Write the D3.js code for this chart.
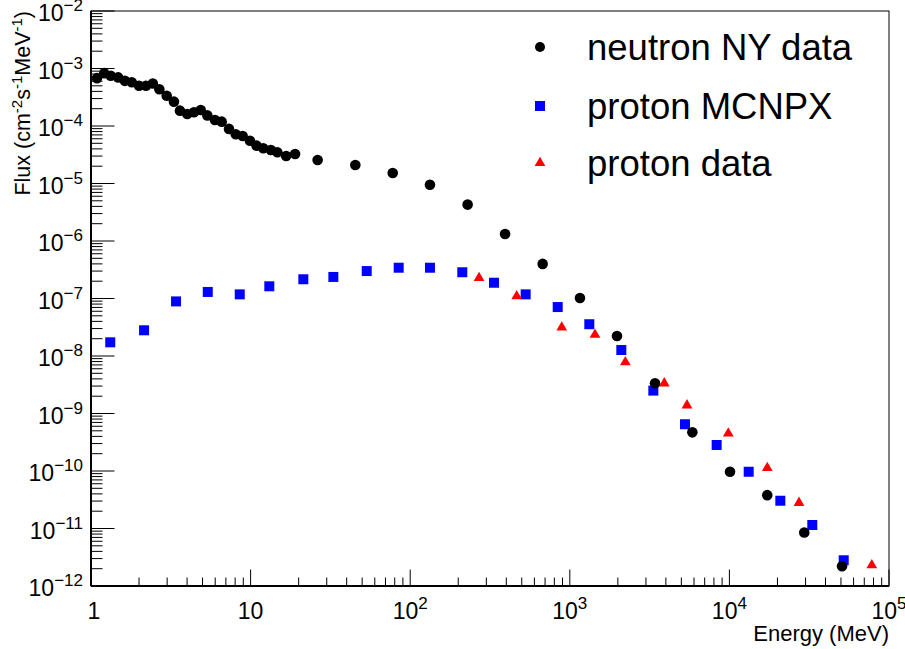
<!DOCTYPE html>
<html>
<head>
<meta charset="utf-8">
<script src="https://cdn.jsdelivr.net/npm/d3@7"></script>
<style>
  body { margin: 0; background: #fff; }
  svg { display: block; }
  text { font-family: "Liberation Sans", Arial, Helvetica, sans-serif; fill: #000; }
</style>
</head>
<body>
<div id="chart"></div>
<script>
// neutron NY data (black circles)
var neutronE = [1.09, 1.21, 1.33, 1.48, 1.63, 1.80, 2.00, 2.21, 2.44, 2.68, 2.98, 3.31, 3.61, 4.01, 4.42, 4.87,
  5.36, 5.98, 6.59, 7.32, 8.07, 8.92, 9.91, 10.9, 12.0, 13.4, 14.7, 16.7, 19.0, 26.3, 45.3, 77.7, 133, 229,
  393, 676, 1158, 1976, 3420, 5860, 10090, 17270, 29450, 50780];
var neutronFlux = [6.8e-4, 8.3e-4, 7.5e-4, 7.0e-4, 6.1e-4, 5.75e-4, 5.0e-4, 5.0e-4, 5.5e-4, 4.35e-4, 3.36e-4, 2.65e-4,
  1.85e-4, 1.62e-4, 1.73e-4, 1.90e-4, 1.53e-4, 1.27e-4, 1.19e-4, 8.9e-5, 7.2e-5, 6.7e-5, 5.55e-5, 4.55e-5, 4.1e-5,
  3.83e-5, 3.5e-5, 3.0e-5, 3.26e-5, 2.56e-5, 2.10e-5, 1.52e-5, 9.5e-6, 4.3e-6, 1.32e-6, 4.0e-7, 1.02e-7, 2.23e-8,
  3.35e-9, 4.7e-10, 9.7e-11, 3.8e-11, 8.5e-12, 2.2e-12];

// proton MCNPX (blue squares)
var mcnpxE = [1.32, 2.15, 3.41, 5.39, 8.55, 13.1, 21.4, 33.0, 53.4, 84.7, 133, 212, 335, 529, 840, 1325, 2103,
  3337, 5270, 8320, 13210, 20850, 33060, 52020];
var mcnpxFlux = [1.73e-8, 2.8e-8, 8.9e-8, 1.30e-7, 1.18e-7, 1.63e-7, 2.16e-7, 2.37e-7, 3.0e-7, 3.43e-7, 3.43e-7,
  2.86e-7, 1.88e-7, 1.18e-7, 7.1e-8, 3.57e-8, 1.27e-8, 2.5e-9, 6.5e-10, 2.83e-10, 9.7e-11, 3.04e-11, 1.15e-11, 2.8e-12];

// proton data (red triangles)
var protonE = [270, 465, 890, 1438, 2228, 3910, 5423, 9840, 17270, 27300, 78000];
var protonFlux = [2.28e-7, 1.10e-7, 3.13e-8, 2.34e-8, 7.8e-9, 3.35e-9, 1.39e-9, 4.5e-10, 1.13e-10, 2.8e-11, 2.3e-12];

var xDecades = [0, 1, 2, 3, 4, 5];
var yDecades = [-12, -11, -10, -9, -8, -7, -6, -5, -4, -3, -2];
var legendLabels = ["neutron NY data", "proton MCNPX", "proton data"];

var W = 905, H = 649;
var padL = 91, padR = 889, padT = 11, padB = 586;

var svg = d3.select("#chart").append("svg").attr("width", W).attr("height", H);
svg.append("rect").attr("width", W).attr("height", H).attr("fill", "#fff");

var x = d3.scaleLog().domain([1, 1e5]).range([padL, padR]);
var y = d3.scaleLog().domain([1e-12, 1e-2]).range([padB, padT]);

// frame
svg.append("rect")
  .attr("x", padL).attr("y", padT)
  .attr("width", padR - padL).attr("height", padB - padT)
  .attr("fill", "none").attr("stroke", "#000").attr("stroke-width", 1);

// minor/major ticks
var xMinor = [], yMinor = [];
xDecades.slice(0, -1).forEach(function (d) {
  for (var m = 2; m <= 9; m++) xMinor.push(m * Math.pow(10, d));
});
yDecades.slice(0, -1).forEach(function (d) {
  for (var m = 2; m <= 9; m++) yMinor.push(m * Math.pow(10, d));
});

var axes = svg.append("g").attr("stroke", "#000").attr("stroke-width", 1);
axes.selectAll(".xmaj").data(xDecades).enter().append("line")
  .attr("x1", function (d) { return x(Math.pow(10, d)); })
  .attr("x2", function (d) { return x(Math.pow(10, d)); })
  .attr("y1", padB).attr("y2", padB - 16.5);
axes.selectAll(".xmin").data(xMinor).enter().append("line")
  .attr("x1", function (d) { return x(d); }).attr("x2", function (d) { return x(d); })
  .attr("y1", padB).attr("y2", padB - 8.5);
axes.selectAll(".ymaj").data(yDecades).enter().append("line")
  .attr("y1", function (d) { return y(Math.pow(10, d)); })
  .attr("y2", function (d) { return y(Math.pow(10, d)); })
  .attr("x1", padL).attr("x2", padL + 23.5);
axes.selectAll(".ymin").data(yMinor).enter().append("line")
  .attr("y1", function (d) { return y(d); }).attr("y2", function (d) { return y(d); })
  .attr("x1", padL).attr("x2", padL + 11.5);

// thicker axis lines
svg.append("line").attr("x1", padL).attr("x2", padR).attr("y1", padB).attr("y2", padB)
  .attr("stroke", "#000").attr("stroke-width", 2);
svg.append("line").attr("x1", padL).attr("x2", padL).attr("y1", padT).attr("y2", padB)
  .attr("stroke", "#000").attr("stroke-width", 2);

// x tick labels
xDecades.forEach(function (d) {
  var t = svg.append("text")
    .attr("x", x(Math.pow(10, d)) + (d === 0 ? 3 : 0)).attr("y", 619)
    .attr("text-anchor", "middle").style("font-size", "23px");
  if (d === 0) t.text("1");
  else if (d === 1) t.text("10");
  else {
    t.append("tspan").text("10");
    t.append("tspan").attr("dy", -10).style("font-size", "17px").text(d);
  }
});

// y tick labels
yDecades.forEach(function (d) {
  var t = svg.append("text")
    .attr("x", 83).attr("y", y(Math.pow(10, d)) + 10)
    .attr("text-anchor", "end").style("font-size", "23px");
  t.append("tspan").text("10");
  t.append("tspan").attr("dy", -10).style("font-size", "17px").text("\u2212" + (-d));
});

// axis titles
svg.append("text")
  .attr("x", padR).attr("y", 641)
  .attr("text-anchor", "end").style("font-size", "22px")
  .text("Energy (MeV)");

var yt = svg.append("text")
  .attr("transform", "translate(30," + padT + ") rotate(-90)")
  .attr("text-anchor", "end").style("font-size", "21.5px");
yt.append("tspan").text("Flux (cm");
yt.append("tspan").attr("dy", -8).style("font-size", "15px").text("-2");
yt.append("tspan").attr("dy", 8).text("s");
yt.append("tspan").attr("dy", -8).style("font-size", "15px").text("-1");
yt.append("tspan").attr("dy", 8).text("MeV");
yt.append("tspan").attr("dy", -8).style("font-size", "15px").text("-1");
yt.append("tspan").attr("dy", 8).text(")");

// data points
var square = d3.symbol().type(d3.symbolSquare).size(100);
var triangle = d3.symbol().type(d3.symbolTriangle).size(50);

svg.append("g").selectAll("path").data(d3.zip(mcnpxE, mcnpxFlux)).enter().append("path")
  .attr("d", square)
  .attr("transform", function (d) { return "translate(" + x(d[0]) + "," + y(d[1]) + ")"; })
  .attr("fill", "#0000ff");

svg.append("g").selectAll("path").data(d3.zip(protonE, protonFlux)).enter().append("path")
  .attr("d", triangle)
  .attr("transform", function (d) { return "translate(" + x(d[0]) + "," + y(d[1]) + ")"; })
  .attr("fill", "#ff0000");

svg.append("g").selectAll("circle").data(d3.zip(neutronE, neutronFlux)).enter().append("circle")
  .attr("cx", function (d) { return x(d[0]); })
  .attr("cy", function (d) { return y(d[1]); })
  .attr("r", 5.3)
  .attr("fill", "#000");

// legend
var legendY = [47, 106, 163];
var lg = svg.append("g");
lg.append("circle").attr("cx", 540).attr("cy", legendY[0]).attr("r", 5).attr("fill", "#000");
lg.append("path").attr("d", square).attr("transform", "translate(540," + legendY[1] + ")").attr("fill", "#0000ff");
lg.append("path").attr("d", triangle).attr("transform", "translate(540," + legendY[2] + ")").attr("fill", "#ff0000");
legendLabels.forEach(function (s, i) {
  lg.append("text").attr("x", 587).attr("y", legendY[i] + 12.5)
    .style("font-size", "36.5px").text(s);
});
</script>
</body>
</html>
